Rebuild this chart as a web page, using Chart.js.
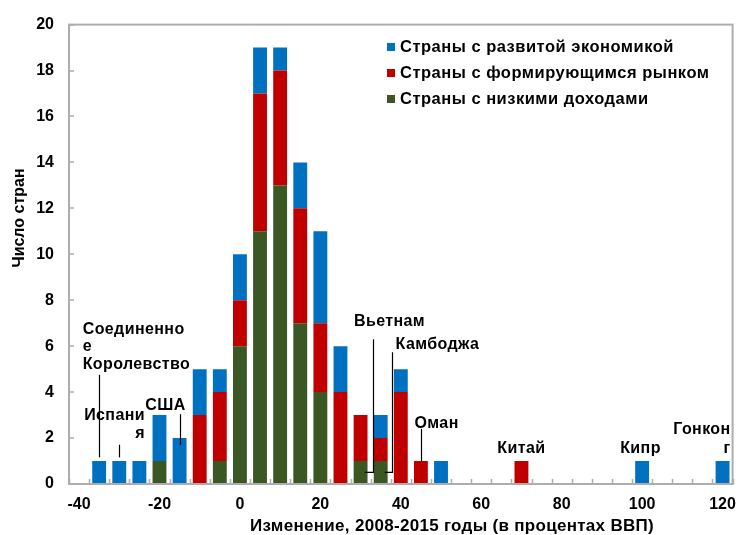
<!DOCTYPE html>
<html><head><meta charset="utf-8">
<script src="https://cdn.jsdelivr.net/npm/chart.js@4/dist/chart.umd.min.js"></script>
<style>html,body{margin:0;padding:0;background:#fff;}#wrap{width:747px;height:535px;position:relative;}</style>
</head><body><div id="wrap"><canvas id="c"></canvas></div>
<script>
// ---- data ----
const categories = [-40,-35,-30,-25,-20,-15,-10,-5,0,5,10,15,20,25,30,35,40,45,50,55,60,65,70,75,80,85,90,95,100,105,110,115,120];
const advanced  = [0,1,1,1,2,2,2,1,2,2,1,2,4,2,0,1,1,0,1,0,0,0,0,0,0,0,0,0,1,0,0,0,1];
const emerging  = [0,0,0,0,0,0,3,3,2,6,5,5,3,4,2,1,4,1,0,0,0,0,1,0,0,0,0,0,0,0,0,0,0];
const lowIncome = [0,0,0,0,1,0,0,1,6,11,13,7,4,0,1,1,0,0,0,0,0,0,0,0,0,0,0,0,0,0,0,0,0];
const xTickLabels = [-40,-20,0,20,40,60,80,100,120];
const yTickValues = [0,2,4,6,8,10,12,14,16,18,20];
const seriesNames = ['Страны с развитой экономикой','Страны с формирующимся рынком','Страны с низкими доходами'];
const yTitle = 'Число стран';
const xTitle = 'Изменение, 2008-2015 годы (в процентах ВВП)';
// annotation texts with anchor points in data units (x: change %, y: count)
const notes = [
  {lines:['Соединенно','е','Королевство'], x:-39.1, y:6.72, lh:0.75, align:'left', line:{x:-35, y1:4.75, y2:1.16}},
  {lines:['Испани','я'], x:-23.6, y:2.96, lh:0.78, align:'right', line:{x:-30, y1:1.71, y2:1.16}},
  {lines:['США'], x:-18.5, y:3.43, align:'center', line:{x:-15, y1:3.04, y2:1.71}},
  {lines:['Вьетнам'], x:37.2, y:7.07, align:'center', line:{x:33.1, y1:6.3, y2:0.51, hook:31.0}},
  {lines:['Камбоджа'], x:49.1, y:6.08, align:'center', line:{x:37.85, y1:5.74, y2:0.51, hook:36.0}},
  {lines:['Оман'], x:48.9, y:2.61, align:'center', line:{x:45, y1:2.4, y2:0.99}},
  {lines:['Китай'], x:70, y:1.54, align:'center'},
  {lines:['Кипр'], x:99.6, y:1.54, align:'center'},
  {lines:['Гонкон','г'], x:122.0, y:2.36, lh:0.82, align:'right'}
];
// ---- style ----
const COLORS = {adv:'#0070C0', em:'#C00000', low:'#3A5724'};
const FONT = '"Liberation Sans", Arial, sans-serif';
const AXIS = '#ADADAD';

function xPix(chart, v){
  const s = chart.scales.x;
  const p0 = s.getPixelForValue(0), p1 = s.getPixelForValue(1);
  const step = categories[1]-categories[0];
  return p0 + (v - categories[0]) / step * (p1 - p0);
}

const decor = {
  id:'decor',
  afterDraw(chart){
    const ctx = chart.ctx, a = chart.chartArea, ys = chart.scales.y, xs = chart.scales.x;
    ctx.save();
    // frame
    ctx.strokeStyle = AXIS; ctx.lineWidth = 2;
    ctx.strokeRect(a.left, a.top, a.right - a.left, a.bottom - a.top);
    // inside tick marks
    ctx.lineWidth = 1.5;
    ctx.beginPath();
    yTickValues.forEach(v => { const y = Math.round(ys.getPixelForValue(v)); ctx.moveTo(a.left, y); ctx.lineTo(a.left + 5, y); });
    const w = xs.getPixelForValue(1) - xs.getPixelForValue(0);
    for (let i = 0; i <= categories.length; i++) {
      const x = Math.round(xs.getPixelForValue(0) - w/2 + i*w) + 0.5;
      ctx.moveTo(x, a.bottom); ctx.lineTo(x, a.bottom - 5);
    }
    ctx.stroke();
    // annotations
    ctx.fillStyle = '#000'; ctx.strokeStyle = '#000'; ctx.lineWidth = 1.2;
    ctx.font = 'bold 16px ' + FONT; ctx.textBaseline = 'middle';
    ctx.letterSpacing = '0.4px';
    notes.forEach(n => {
      ctx.textAlign = n.align;
      n.lines.forEach((t, i) => {
        ctx.fillText(t, xPix(chart, n.x), ys.getPixelForValue(n.y - i*(n.lh||0.75)));
      });
      if (n.line) {
        const lx = Math.round(xPix(chart, n.line.x)) + 0.5;
        const y2 = ys.getPixelForValue(n.line.y2);
        ctx.beginPath();
        ctx.moveTo(lx, ys.getPixelForValue(n.line.y1)); ctx.lineTo(lx, y2);
        if (n.line.hook !== undefined) ctx.lineTo(xPix(chart, n.line.hook), y2);
        ctx.stroke();
      }
    });
    // legend
    const legendItems = [[seriesNames[0], COLORS.adv],[seriesNames[1], COLORS.em],[seriesNames[2], COLORS.low]];
    ctx.textAlign = 'left';
    ctx.font = 'bold 16.5px ' + FONT; ctx.letterSpacing = '0.5px';
    legendItems.forEach((it, i) => {
      const cy = 47 + i*26;
      ctx.fillStyle = it[1]; ctx.fillRect(387, cy - 4, 8, 8);
      ctx.fillStyle = '#000'; ctx.fillText(it[0], 400, cy + 0.5);
    });
    // axis titles
    ctx.font = 'bold 17px ' + FONT; ctx.letterSpacing = '0.3px';
    ctx.textAlign = 'center';
    ctx.fillText(xTitle, 452, 526);
    ctx.font = 'bold 16px ' + FONT; ctx.letterSpacing = '0px';
    ctx.translate(20, 218); ctx.rotate(-Math.PI/2);
    ctx.fillText(yTitle, 0, 0);
    ctx.restore();
  }
};

new Chart(document.getElementById('c'), {
  type:'bar',
  data:{
    labels: categories,
    datasets:[
      {label:seriesNames[2], data:lowIncome, backgroundColor:COLORS.low},
      {label:seriesNames[1], data:emerging, backgroundColor:COLORS.em},
      {label:seriesNames[0], data:advanced, backgroundColor:COLORS.adv}
    ]
  },
  options:{
    responsive:true, maintainAspectRatio:false, animation:false,
    layout:{padding:{top:17, right:7, left:0, bottom:0}},
    plugins:{legend:{display:false}, tooltip:{enabled:false}},
    datasets:{bar:{barPercentage:0.69, categoryPercentage:1, borderWidth:0}},
    scales:{
      x:{
        stacked:true,
        grid:{display:false, drawTicks:false}, border:{display:false},
        ticks:{autoSkip:false, maxRotation:0, minRotation:0, padding:11, color:'#000',
          font:{family:FONT, size:16, weight:'bold'},
          callback:function(v, i){ const c = categories[i]; return xTickLabels.includes(c) ? String(c) : ''; }},
        afterFit(s){ s.height = 51; }
      },
      y:{
        stacked:true, min:0, max:20,
        grid:{display:false, drawTicks:false}, border:{display:false},
        ticks:{stepSize:2, padding:15, color:'#000', font:{family:FONT, size:16, weight:'bold'}},
        afterFit(s){ s.width = 69; }
      }
    }
  },
  plugins:[decor]
});
</script></body></html>
